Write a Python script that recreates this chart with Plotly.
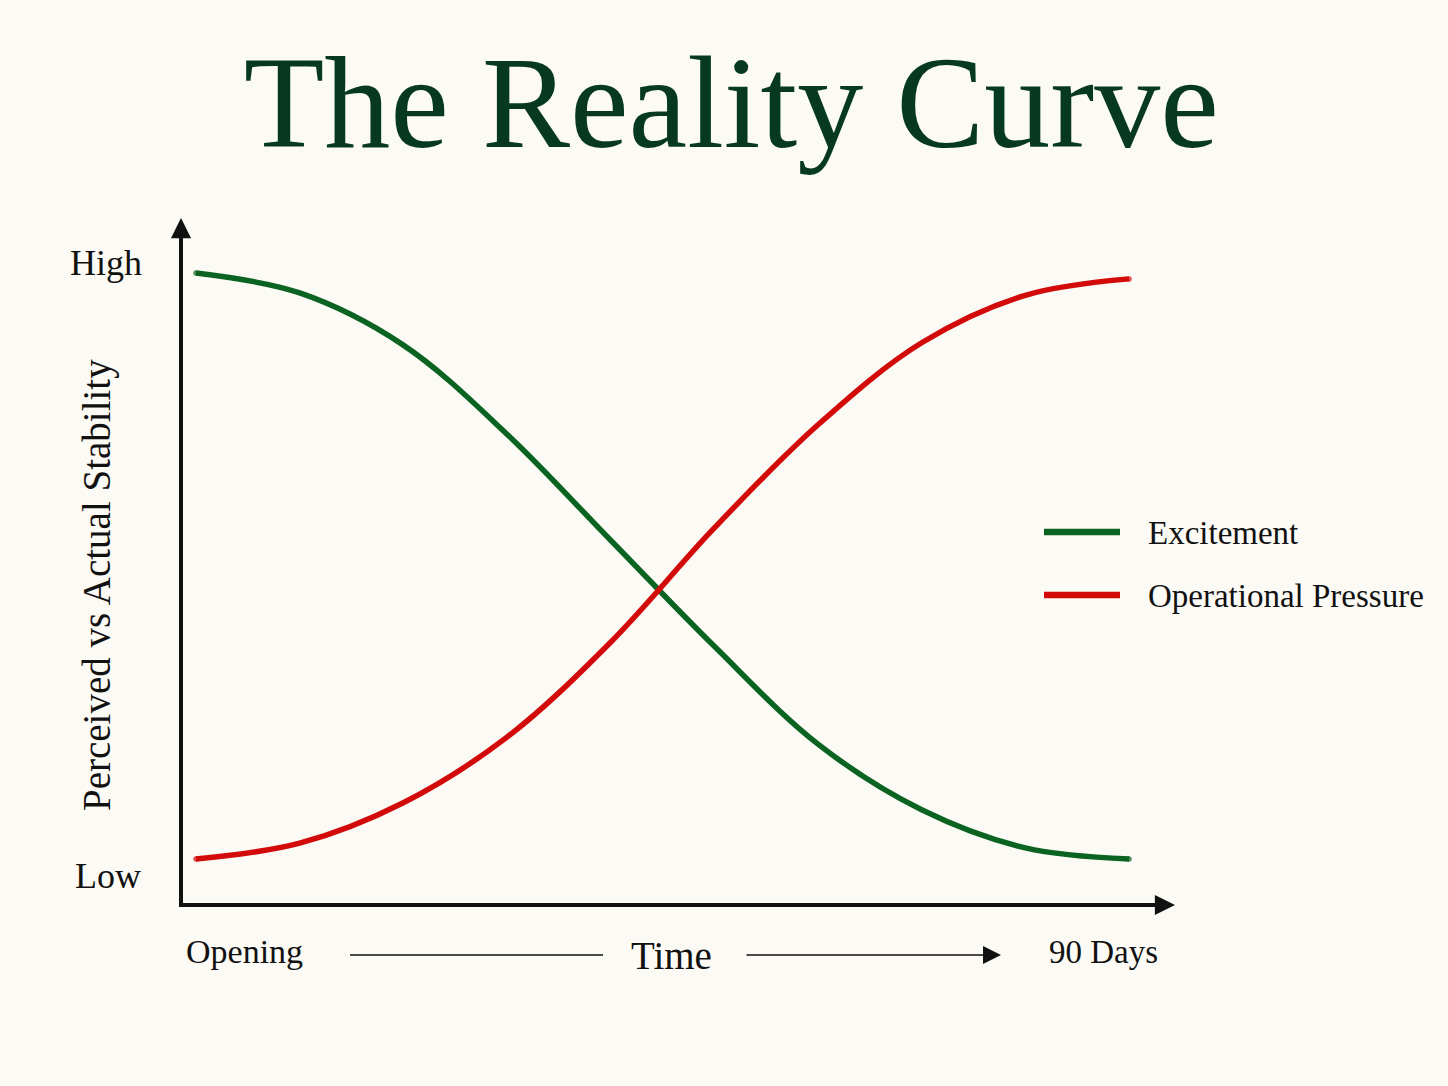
import plotly.graph_objects as go

# ---------------------------------------------------------------------
# data (x = days since opening, y = 0..100 scale)
# ---------------------------------------------------------------------
days = [0, 10, 20, 30, 40, 50, 60, 70, 80, 90]
excitement = [100, 96.6, 87.7, 72.5, 54.4, 36.3, 19.6, 8.4, 1.9, 0]
pressure = [0, 2.7, 9.6, 20.8, 37.0, 56.5, 74.1, 88.1, 96.2, 99.0]

series_names = ["Excitement", "Operational Pressure"]
y_labels = ["Low", "High"]
x_labels = ["Opening", "Time", "90 Days"]
title_text = "The Reality Curve"
y_title = "Perceived vs Actual Stability"

# ---------------------------------------------------------------------
# style
# ---------------------------------------------------------------------
W, H = 1448, 1086
BG = "#fcfaf4"
GREEN = "#0a6320"
RED = "#d20a0a"
INK = "#111111"
TITLE_INK = "#06391f"
SERIF = "Liberation Serif, Times New Roman, serif"

# plot area in page pixels
L, R, T, B = 181, 1175, 218, 905


def px(p):
    return (p - L) / (R - L)


def py(p):
    return (B - p) / (B - T)


fig = go.Figure()

for name, ys, color in ((series_names[0], excitement, GREEN), (series_names[1], pressure, RED)):
    fig.add_trace(go.Scatter(
        x=days, y=ys, name=name, mode="lines+markers",
        line=dict(color=color, width=5.5, shape="spline", smoothing=1.0),
        # round off both ends like the reference's rounded line caps
        marker=dict(color=color, size=[5.5] + [0] * (len(days) - 2) + [5.5], line=dict(width=0)),
        showlegend=False, hoverinfo="skip",
    ))

annotations = []
shapes = []

# axes: plain lines + arrowheads
shapes.append(dict(type="line", xref="paper", yref="paper", x0=0, x1=0,
                   y0=py(B + 2), y1=py(T + 14), line=dict(color=INK, width=4)))
shapes.append(dict(type="line", xref="paper", yref="paper", x0=px(L - 2), x1=px(R - 14),
                   y0=0, y1=0, line=dict(color=INK, width=4)))
annotations.append(dict(x=0, y=1, xref="paper", yref="paper", text="", showarrow=True,
                        ax=0, ay=40, arrowhead=2, arrowwidth=3.5, arrowsize=1.15,
                        arrowcolor=INK, standoff=0))
annotations.append(dict(x=1, y=0, xref="paper", yref="paper", text="", showarrow=True,
                        ax=-40, ay=0, arrowhead=2, arrowwidth=3.5, arrowsize=1.15,
                        arrowcolor=INK, standoff=0))

# y labels
annotations.append(dict(x=px(144), y=py(263), xref="paper", yref="paper", text=y_labels[1],
                        showarrow=False, xanchor="right", yanchor="middle",
                        font=dict(family=SERIF, size=36, color=INK)))
annotations.append(dict(x=px(143), y=py(876), xref="paper", yref="paper", text=y_labels[0],
                        showarrow=False, xanchor="right", yanchor="middle",
                        font=dict(family=SERIF, size=36, color=INK)))

# y title
annotations.append(dict(x=px(97), y=py(585), xref="paper", yref="paper", text=y_title,
                        showarrow=False, textangle=-90, xanchor="center", yanchor="middle",
                        font=dict(family=SERIF, size=39, color=INK)))

# x row: Opening ---- Time ----> 90 Days
annotations.append(dict(x=px(184), y=py(951), xref="paper", yref="paper", text=x_labels[0],
                        showarrow=False, xanchor="left", yanchor="middle",
                        font=dict(family=SERIF, size=34, color=INK)))
annotations.append(dict(x=px(671), y=py(955), xref="paper", yref="paper", text=x_labels[1],
                        showarrow=False, xanchor="center", yanchor="middle",
                        font=dict(family=SERIF, size=39, color=INK)))
annotations.append(dict(x=px(1047), y=py(952), xref="paper", yref="paper", text=x_labels[2],
                        showarrow=False, xanchor="left", yanchor="middle",
                        font=dict(family=SERIF, size=33, color=INK)))
shapes.append(dict(type="line", xref="paper", yref="paper",
                   x0=px(350), x1=px(603), y0=py(955), y1=py(955),
                   line=dict(color=INK, width=1.5)))
annotations.append(dict(x=px(1001), y=py(955), xref="paper", yref="paper", text="",
                        showarrow=True, ax=-(1001 - 745), ay=0, arrowhead=2,
                        arrowwidth=1.5, arrowsize=2.4, arrowcolor=INK, standoff=0))

# legend
for name, color, yy in ((series_names[0], GREEN, 532), (series_names[1], RED, 595)):
    shapes.append(dict(type="line", xref="paper", yref="paper",
                       x0=px(1044), x1=px(1120), y0=py(yy), y1=py(yy),
                       line=dict(color=color, width=6.5)))
    annotations.append(dict(x=px(1146), y=py(yy + 1), xref="paper", yref="paper", text=name,
                            showarrow=False, xanchor="left", yanchor="middle",
                            font=dict(family=SERIF, size=33, color=INK)))

fig.update_layout(
    width=W, height=H,
    paper_bgcolor=BG, plot_bgcolor=BG,
    margin=dict(l=L, r=W - R, t=T, b=H - B, pad=0),
    title=dict(text=title_text, x=0.505, xanchor="center", y=1 - 101 / H, yanchor="middle",
               font=dict(family=SERIF, size=132, color=TITLE_INK)),
    xaxis=dict(range=[-1.447, 94.437], visible=False, fixedrange=True),
    yaxis=dict(range=[-7.85, 109.39], visible=False, fixedrange=True),
    annotations=annotations,
    shapes=shapes,
    showlegend=False,
)

fig.write_html("out.html", config={"displayModeBar": False},
               post_script="document.body.style.margin='0';")
